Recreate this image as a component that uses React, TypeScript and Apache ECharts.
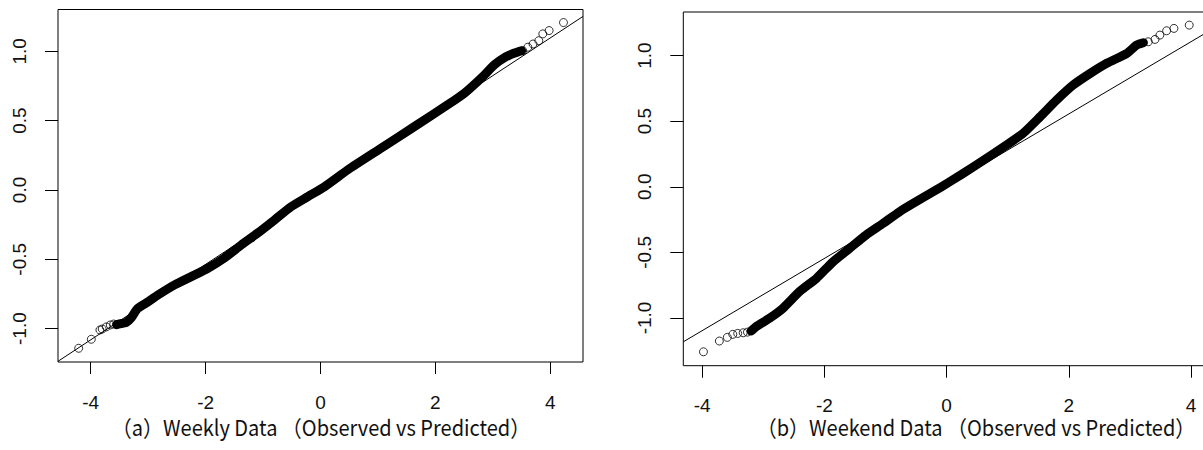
import React, { useEffect, useRef } from "react";
import * as echarts from "echarts";

// ---- tick values ----
const xTicks = [-4, -2, 0, 2, 4];
const yTicks = [-1, -0.5, 0, 0.5, 1];

// ---- axis ranges ----
const weeklyXRange = [-4.57, 4.57];
const weeklyYRange = [-1.241, 1.302];
const weekendXRange = [-4.31, 4.31];
const weekendYRange = [-1.364, 1.332];

// ---- (a) weekly: dense band of points (theoretical, sample) ----
const weeklyBand = [
  [-3.55, -0.972], [-3.45, -0.962], [-3.38, -0.955], [-3.3, -0.925],
  [-3.18, -0.854], [-3.0, -0.806], [-2.83, -0.758], [-2.54, -0.685],
  [-2.25, -0.625], [-1.96, -0.565], [-1.67, -0.49], [-1.38, -0.397],
  [-1.09, -0.31], [-0.8, -0.216], [-0.51, -0.12], [-0.22, -0.048],
  [0.07, 0.024], [0.48, 0.147], [1.06, 0.303], [1.64, 0.459],
  [2.22, 0.616], [2.51, 0.7], [2.8, 0.808], [3.03, 0.904],
  [3.21, 0.957], [3.38, 0.988], [3.5, 1.005],
];
// sparse tail points
const weeklyTailPoints = [
  [-4.21, -1.142], [-3.99, -1.077], [-3.84, -1.01], [-3.8, -1.003],
  [-3.73, -0.988], [-3.66, -0.974], [-3.6, -0.967],
  [3.52, 1.005], [3.61, 1.03], [3.7, 1.053], [3.8, 1.077],
  [3.87, 1.126], [3.98, 1.15], [4.23, 1.208],
];
const weeklyRefLine = [[-4.57, -1.236], [4.57, 1.252]];

// ---- (b) weekend ----
const weekendBand = [
  [-3.2, -1.1], [-3.12, -1.067], [-2.9, -1.003], [-2.68, -0.927],
  [-2.41, -0.8], [-2.13, -0.698], [-1.86, -0.572], [-1.59, -0.47],
  [-1.32, -0.368], [-1.04, -0.279], [-0.77, -0.19], [-0.5, -0.114],
  [-0.22, -0.038], [0.05, 0.038], [0.44, 0.152], [0.98, 0.318],
  [1.25, 0.407], [1.53, 0.534], [1.8, 0.661], [2.07, 0.775],
  [2.35, 0.864], [2.62, 0.941], [2.95, 1.017], [3.11, 1.08],
  [3.22, 1.098],
];
const weekendTailPoints = [
  [-3.98, -1.258], [-3.72, -1.176], [-3.59, -1.148], [-3.5, -1.125],
  [-3.42, -1.118], [-3.33, -1.113], [-3.26, -1.108],
  [3.3, 1.105], [3.41, 1.123], [3.49, 1.156], [3.6, 1.189],
  [3.72, 1.207], [3.97, 1.232],
];
const weekendRefLine = [[-4.31, -1.182], [4.31, 1.191]];

const captionA = "（a）Weekly Data （Observed vs Predicted）";
const captionB = "（b）Weekend Data （Observed vs Predicted）";

export default function App() {
  const ref = useRef<HTMLDivElement>(null);
  useEffect(() => {
    const chart = echarts.init(ref.current!, null, { renderer: "svg" });
    const labelFont = {
      fontFamily: "Liberation Sans",
      fontSize: 19,
      color: "#111",
    };
    const tickStyle = { color: "#000", width: 1 };
    const mkX = (gi: number, r: number[], margin: number) => ({
      type: "value",
      gridIndex: gi,
      position: "bottom",
      min: r[0],
      max: r[1],
      axisLine: { show: false, onZero: false },
      axisTick: { show: true, inside: false, length: 12, customValues: xTicks, lineStyle: tickStyle },
      axisLabel: { show: true, customValues: xTicks, margin, ...labelFont, formatter: (v: number) => String(v) },
      splitLine: { show: false },
    });
    const mkY = (gi: number, r: number[]) => ({
      type: "value",
      gridIndex: gi,
      position: "left",
      min: r[0],
      max: r[1],
      axisLine: { show: false, onZero: false },
      axisTick: { show: true, inside: false, length: 13, customValues: yTicks, lineStyle: tickStyle },
      axisLabel: { show: true, customValues: yTicks, rotate: 90, margin: 29, ...labelFont, formatter: (v: number) => v.toFixed(1) },
      splitLine: { show: false },
    });
    const band = (i: number, data: number[][]) => ({
      type: "line",
      xAxisIndex: i,
      yAxisIndex: i,
      data,
      symbol: "none",
      smooth: 0.2,
      lineStyle: { color: "#000", width: 9, cap: "round", join: "round" },
      z: 2,
    });
    const tails = (i: number, data: number[][]) => ({
      type: "scatter",
      xAxisIndex: i,
      yAxisIndex: i,
      data,
      symbol: "circle",
      symbolSize: 8,
      itemStyle: { color: "rgba(0,0,0,0)", borderColor: "#000", borderWidth: 1 },
      z: 3,
    });
    const refLine = (i: number, data: number[][]) => ({
      type: "line",
      xAxisIndex: i,
      yAxisIndex: i,
      data,
      symbol: "none",
      lineStyle: { color: "#000", width: 1 },
      z: 4,
    });
    const gridStyle = { show: true, borderColor: "#000", borderWidth: 1, backgroundColor: "rgba(0,0,0,0)", outerBoundsMode: "none", containLabel: false };
    const captionStyle = { fontFamily: "Noto Sans CJK KR", fontSize: 20, fill: "#111", textAlign: "center", textVerticalAlign: "middle" };
    chart.setOption({
      animation: false,
      backgroundColor: "#fff",
      grid: [
        { ...gridStyle, left: 58, top: 9.5, width: 525, height: 352.5 },
        { ...gridStyle, left: 683.3, top: 12, width: 526.7, height: 353.7 },
      ],
      xAxis: [mkX(0, weeklyXRange, 31), mkX(1, weekendXRange, 30)],
      yAxis: [mkY(0, weeklyYRange), mkY(1, weekendYRange)],
      series: [
        band(0, weeklyBand),
        tails(0, weeklyTailPoints),
        refLine(0, weeklyRefLine),
        band(1, weekendBand),
        tails(1, weekendTailPoints),
        refLine(1, weekendRefLine),
      ],
      graphic: [
        {
          type: "text",
          x: 321,
          y: 427,
          scaleY: 1.1,
          style: { text: captionA, ...captionStyle },
        },
        {
          type: "text",
          x: 976,
          y: 427,
          scaleY: 1.1,
          style: { text: captionB, ...captionStyle },
        },
      ],
    });
    return () => chart.dispose();
  }, []);
  return <div ref={ref} style={{ position: "fixed", left: 0, top: 0, width: 1203, height: 450 }} />;
}
